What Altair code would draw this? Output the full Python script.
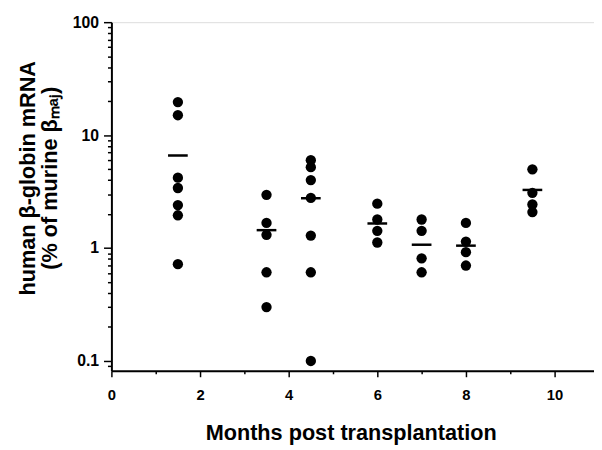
import altair as alt
import pandas as pd

# Months post transplantation for each group of animals
months = [1.5, 3.5, 4.5, 6, 7, 8, 9.5]
values = [
    [19.6, 15.0, 4.2, 3.4, 2.4, 1.95, 0.72],
    [2.96, 1.67, 1.31, 0.61, 0.30],
    [6.0, 5.2, 4.0, 2.78, 1.29, 0.61, 0.10],
    [2.47, 1.79, 1.42, 1.12],
    [1.79, 1.42, 0.81, 0.61],
    [1.67, 1.14, 0.92, 0.70],
    [4.98, 3.08, 2.43, 2.08],
]
# Group means (horizontal dashes)
means = [6.6, 1.44, 2.76, 1.65, 1.07, 1.05, 3.27]

x_ticks = [0, 1, 2, 3, 4, 5, 6, 7, 8, 9, 10]
y_major = [0.1, 1, 10, 100]
y_ticks = [0.09, 0.1, 0.2, 0.3, 0.4, 0.5, 0.6, 0.7, 0.8, 0.9,
           1, 2, 3, 4, 5, 6, 7, 8, 9,
           10, 20, 30, 40, 50, 60, 70, 80, 90, 100]

rows = [{"month": m, "pct": v} for m, vs in zip(months, values) for v in vs]
pts = pd.DataFrame(rows)
mdf = pd.DataFrame({"month": months, "pct": means})

FONT = "Liberation Sans"

x_enc = alt.X(
    "month:Q",
    scale=alt.Scale(domain=[0, 10.89], nice=False, zero=False),
    axis=alt.Axis(
        title="Months post transplantation",
        values=x_ticks,
        labelExpr="datum.value % 2 == 0 ? datum.label : ''",
        tickSize={"condition": {"test": "datum.value % 2 == 0", "value": 6}, "value": 3},
        grid=False,
        domainColor="black", domainWidth=2,
        tickColor="black", tickWidth=1.5,
        labelFont=FONT, labelFontSize=15, labelFontWeight="bold", labelColor="black",
        labelPadding=11, labelFlush=False,
        titleFont=FONT, titleFontSize=22, titleFontWeight="bold", titleColor="black",
        titleBaseline="alphabetic", titleY=70, titleX=243, titleAnchor="middle",
    ),
)

y_enc = alt.Y(
    "pct:Q",
    scale=alt.Scale(type="log", domain=[0.0818, 100], nice=False),
    axis=alt.Axis(
        title=["human β-globin mRNA", "(% of murine βₘₐⱼ)"],
        values=y_ticks,
        labelExpr="indexof([0.1, 1, 10, 100], datum.value) >= 0 ? format(datum.value, '~g') : ''",
        tickSize={"condition": {"test": "indexof([0.1, 1, 10, 100], datum.value) >= 0", "value": 8}, "value": 4},
        grid=False,
        domainColor="black", domainWidth=2,
        tickColor="black", tickWidth=1.5,
        labelFont=FONT, labelFontSize=16, labelFontWeight="bold", labelColor="black",
        labelPadding=5, labelFlush=False,
        titleFont=FONT, titleFontSize=22, titleFontWeight="bold", titleColor="black",
        titleAngle=270, titleBaseline="middle", titleLineHeight=22,
        titleX=-85, titleY=158, titleAnchor="middle",
    ),
)

points = alt.Chart(pts).mark_circle(size=110, color="black", opacity=1).encode(
    x=x_enc, y=y_enc
)
dashes = alt.Chart(mdf).mark_tick(
    orient="horizontal", size=20, thickness=2.5, color="black", opacity=1
).encode(x=x_enc, y=y_enc)

chart = (
    alt.layer(points, dashes)
    .properties(
        width=490,
        height=354,
        autosize=alt.AutoSizeParams(type="none"),
        padding={"left": 105, "top": 11, "right": 0, "bottom": 77},
    )
    .configure_view(stroke="black", strokeWidth=2)
    .configure(background="white")
)

chart.save("out.html", embed_options={"renderer": "svg", "actions": False})
